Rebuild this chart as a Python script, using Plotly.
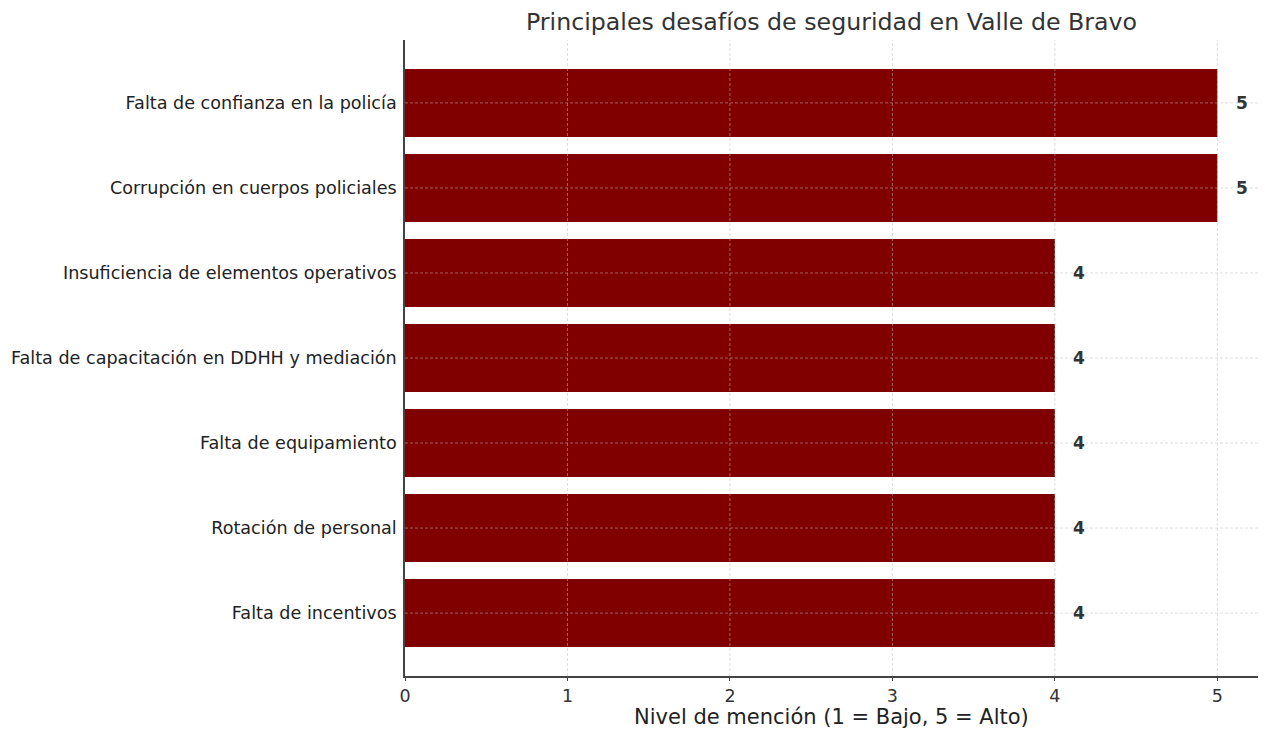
import plotly.graph_objects as go

categories = [
    "Falta de confianza en la policía",
    "Corrupción en cuerpos policiales",
    "Insuficiencia de elementos operativos",
    "Falta de capacitación en DDHH y mediación",
    "Falta de equipamiento",
    "Rotación de personal",
    "Falta de incentivos",
]
values = [5, 5, 4, 4, 4, 4, 4]
x_ticks = [0, 1, 2, 3, 4, 5]

cats_plot = categories[::-1]
vals_plot = values[::-1]

# page body has an 8px margin; compensate so the plot lands where the reference has it
W, H = 1251, 723
L, R, T, B = 397, 1, 32, 55
plot_h = H - T - B

fig = go.Figure()
fig.add_trace(go.Bar(
    y=cats_plot, x=vals_plot, orientation="h",
    marker=dict(color="#800000", line=dict(width=0)),
    width=0.8, showlegend=False, hoverinfo="x+y",
))

for c, v in zip(cats_plot, vals_plot):
    fig.add_annotation(x=v + 0.1, y=c, text=f"<b>{v}</b>", showarrow=False,
                       xanchor="left", yanchor="middle",
                       font=dict(family="DejaVu Sans", size=17, color="#333333"))

grid_line = dict(color="rgba(190,190,190,0.5)", width=1, dash="3px,2px")
for t in x_ticks[1:]:
    fig.add_shape(type="line", xref="x", yref="paper", x0=t, x1=t, y0=0, y1=1,
                  line=grid_line, layer="above")
for c in cats_plot:
    fig.add_shape(type="line", xref="paper", yref="y", x0=0, x1=1, y0=c, y1=c,
                  line=grid_line, layer="above")

# x-axis title as annotation placed below tick labels
fig.add_annotation(text="Nivel de mención (1 = Bajo, 5 = Alto)", xref="paper", yref="paper",
                   x=0.5, y=-41 / plot_h, xanchor="center", yanchor="middle",
                   showarrow=False, font=dict(family="DejaVu Sans", size=21, color="#222222"))

fig.update_layout(
    width=W, height=H,
    margin=dict(l=L, r=R, t=T, b=B),
    paper_bgcolor="white", plot_bgcolor="white",
    font=dict(family="DejaVu Sans", color="#222222"),
    title=dict(text="Principales desafíos de seguridad en Valle de Bravo",
               x=(397 + 1250) / 2 / W, xanchor="center", y=1 - 14 / H, yanchor="middle",
               font=dict(family="DejaVu Sans", size=23.7, color="#333333")),
    bargap=0.2,
)
fig.update_xaxes(
    range=[0, 5.25], tickvals=x_ticks, ticktext=[str(t) for t in x_ticks],
    showgrid=False,
    showline=True, linecolor="#444444", linewidth=1.5,
    ticks="outside", ticklen=3, tickcolor="#444444",
    tickfont=dict(size=17.5, color="#333333"),
    zeroline=False, layer="above traces",
)
fig.update_yaxes(
    range=[-0.74, 6.74],
    showgrid=False,
    showline=True, linecolor="#444444", linewidth=1.5,
    ticks="", ticklabelstandoff=3,
    tickfont=dict(size=17.6, color="#222222"),
    zeroline=False, layer="above traces",
)

fig.write_html("out.html")
